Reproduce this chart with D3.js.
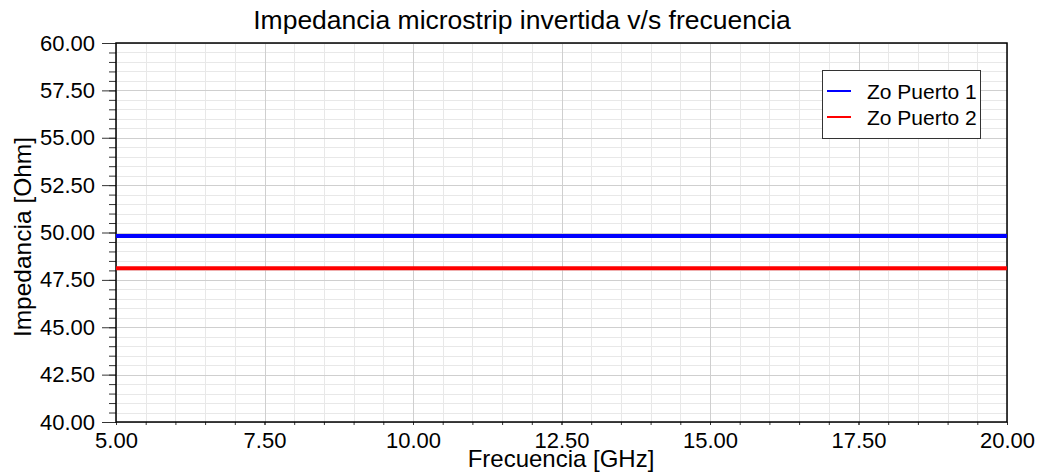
<!DOCTYPE html>
<html>
<head>
<meta charset="utf-8">
<script src="https://cdn.jsdelivr.net/npm/d3@7"></script>
<style>
  body { margin: 0; background: #fff; }
  svg { display: block; font-family: "Liberation Sans", Arial, sans-serif; }
</style>
</head>
<body>
<svg id="chart" width="1039" height="475"></svg>
<script>
// data
var freq = [5.0, 7.5, 10.0, 12.5, 15.0, 17.5, 20.0];
var zoPuerto1 = [49.82, 49.82, 49.82, 49.82, 49.82, 49.82, 49.82];
var zoPuerto2 = [48.11, 48.11, 48.11, 48.11, 48.11, 48.11, 48.11];
var seriesNames = ['Zo Puerto 1', 'Zo Puerto 2'];
var seriesColors = ['#0000ff', '#ff0000'];
var xTicks = [5, 7.5, 10, 12.5, 15, 17.5, 20];
var yTicks = [40, 42.5, 45, 47.5, 50, 52.5, 55, 57.5, 60];

(function() {
    var svg = d3.select('#chart'),
        pLeft = 116, pRight = 1007, pTop = 43, pBottom = 422;

    var x = d3.scaleLinear().domain([5, 20]).range([pLeft, pRight]);
    var y = d3.scaleLinear().domain([40, 60]).range([pBottom, pTop]);

    var minorX = d3.range(5, 20.001, 0.5),
        minorY = d3.range(40, 60.001, 0.5);

    function px(v) { return Math.round(v) + 0.5; }

    // grid: minor first, then major on top
    var grid = svg.append('g').attr('class', 'grid');
    [[minorX, minorY, '#e8e8e8'], [xTicks, yTicks, '#cfcfcf']].forEach(function(g) {
        grid.append('g').selectAll('line')
            .data(g[0])
            .enter().append('line')
            .attr('x1', function(d) { return px(x(d)); })
            .attr('x2', function(d) { return px(x(d)); })
            .attr('y1', pTop).attr('y2', pBottom)
            .attr('stroke', g[2]);

        grid.append('g').selectAll('line')
            .data(g[1])
            .enter().append('line')
            .attr('y1', function(d) { return px(y(d)); })
            .attr('y2', function(d) { return px(y(d)); })
            .attr('x1', pLeft).attr('x2', pRight)
            .attr('stroke', g[2]);
    });

    // axes
    var yMinorAxis = d3.axisLeft(y).tickValues(minorY).tickSize(7).tickFormat('');
    var yAxis = d3.axisLeft(y).tickValues(yTicks).tickSize(14).tickPadding(7)
        .tickFormat(d3.format('.2f'));
    var xAxis = d3.axisBottom(x).tickValues(minorX).tickSize(3).tickFormat('');
    var xLabels = d3.axisBottom(x).tickValues(xTicks).tickSize(3).tickPadding(7)
        .tickFormat(d3.format('.2f'));

    svg.append('g').attr('transform', 'translate(' + pLeft + ',0)').call(yMinorAxis);
    svg.append('g').attr('transform', 'translate(' + pLeft + ',0)').call(yAxis);
    svg.append('g').attr('transform', 'translate(0,' + pBottom + ')').call(xAxis);
    svg.append('g').attr('transform', 'translate(0,' + pBottom + ')').call(xLabels);

    svg.selectAll('.domain').remove();
    svg.selectAll('.tick line').attr('stroke', '#333');
    svg.selectAll('.tick text')
        .attr('fill', '#000')
        .style('font-size', '22px')
        .style('font-family', '"Liberation Sans", Arial, sans-serif');

    // frame
    svg.append('rect')
        .attr('x', pLeft).attr('y', pTop)
        .attr('width', pRight - pLeft).attr('height', pBottom - pTop)
        .attr('fill', 'none')
        .attr('stroke', '#000')
        .attr('stroke-width', 1.5);

    // series
    var line = d3.line()
        .x(function(d) { return x(d[0]); })
        .y(function(d) { return y(d[1]); });

    [zoPuerto1, zoPuerto2].forEach(function(vals, i) {
        svg.append('path')
            .datum(freq.map(function(f, j) { return [f, vals[j]]; }))
            .attr('d', line)
            .attr('fill', 'none')
            .attr('stroke', seriesColors[i])
            .attr('stroke-width', 4);
    });

    // legend
    var legend = svg.append('g').attr('class', 'legend');
    legend.append('rect')
        .attr('x', 822.5).attr('y', 70.5)
        .attr('width', 158).attr('height', 68)
        .attr('fill', '#fff')
        .attr('stroke', '#333');

    seriesNames.forEach(function(name, i) {
        var ly = 91 + i * 26;
        legend.append('line')
            .attr('x1', 827).attr('x2', 851)
            .attr('y1', ly).attr('y2', ly)
            .attr('stroke', seriesColors[i])
            .attr('stroke-width', 2);
        legend.append('text')
            .attr('x', 867).attr('y', ly + 8)
            .style('font-size', '21px')
            .text(name);
    });

    // titles
    svg.append('text')
        .attr('x', 522).attr('y', 29)
        .attr('text-anchor', 'middle')
        .style('font-size', '26.5px')
        .text('Impedancia microstrip invertida v/s frecuencia');

    svg.append('text')
        .attr('x', 561).attr('y', 467)
        .attr('text-anchor', 'middle')
        .style('font-size', '24px')
        .text('Frecuencia [GHz]');

    svg.append('text')
        .attr('transform', 'translate(31,237) rotate(-90)')
        .attr('text-anchor', 'middle')
        .style('font-size', '24.5px')
        .text('Impedancia [Ohm]');
})();
</script>
</body>
</html>
